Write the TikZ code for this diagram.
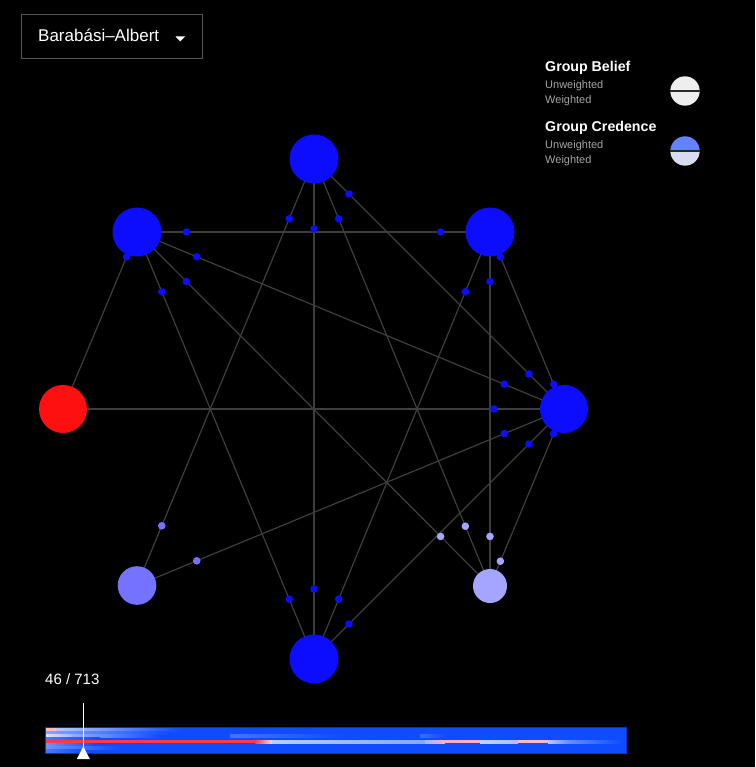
\documentclass[tikz,border=0pt]{standalone}
\usepackage{fontspec}
\setmainfont{Liberation Sans}
\definecolor{nblue}{RGB}{12,12,255}
\definecolor{nmid}{RGB}{115,115,255}
\definecolor{nlight}{RGB}{165,165,255}
\definecolor{nred}{RGB}{255,16,16}
\definecolor{edgegray}{RGB}{62,62,62}
\definecolor{boxgray}{RGB}{85,85,85}
\definecolor{subgray}{RGB}{165,165,165}
\definecolor{beliefc}{RGB}{238,238,238}
\definecolor{credtop}{RGB}{100,130,255}
\definecolor{credbot}{RGB}{216,220,240}
\definecolor{sepc}{RGB}{40,40,40}
\definecolor{barblue}{RGB}{16,76,255}
\definecolor{baredge}{RGB}{10,50,200}
\definecolor{hred}{RGB}{255,60,70}
\pgfdeclarelayer{back}
\pgfdeclarelayer{edges}
\pgfsetlayers{back,edges,main}
\tikzset{
  gnode/.style={circle, inner sep=0pt, draw=none},
  dotn/.style={circle, inner sep=0pt, minimum size=7.6pt, draw=none},
  edge/.style={draw=edgegray, line width=1.2pt},
  lbl/.style={anchor=base west, inner sep=0pt, text=white},
  sublbl/.style={anchor=base west, inner sep=0pt, text=subgray, font=\fontsize{11}{13}\selectfont},
  headlbl/.style={anchor=base west, inner sep=0pt, text=white, font=\bfseries\fontsize{14.2}{16}\selectfont},
}
\begin{document}
\begin{tikzpicture}[x=1pt,y=-1pt]
\begin{pgfonlayer}{back}
\fill[black] (0,0) rectangle (755,767);
\end{pgfonlayer}
\useasboundingbox (0,0) rectangle (755,767);

% graph nodes
\node[gnode, fill=nblue, minimum size=49pt] (n0) at (314,159) {};
\node[gnode, fill=nblue, minimum size=49pt] (n1) at (137,232) {};
\node[gnode, fill=nblue, minimum size=49pt] (n2) at (490,232) {};
\node[gnode, fill=nred,  minimum size=48pt] (n3) at (63,409) {};
\node[gnode, fill=nblue, minimum size=48pt] (n4) at (564,409) {};
\node[gnode, fill=nmid,  minimum size=38.6pt] (n5) at (137,585.5) {};
\node[gnode, fill=nblue, minimum size=49pt] (n6) at (314,659) {};
\node[gnode, fill=nlight,minimum size=34pt] (n7) at (490,586) {};

% edges
\begin{pgfonlayer}{edges}
\foreach \a/\b in {n0/n4,n0/n5,n0/n6,n0/n7,n1/n2,n1/n3,n1/n4,n1/n6,n1/n7,n2/n4,n2/n6,n2/n7,n3/n4,n4/n5,n4/n6,n4/n7}{
  \draw[edge] (\a.center) -- (\b.center);
}
\end{pgfonlayer}

% message dots
\foreach \a/\b/\ca/\cb in {n0/n4/nblue/nblue,n0/n5/nblue/nmid,n0/n6/nblue/nblue,n0/n7/nblue/nlight,n1/n2/nblue/nblue,n1/n4/nblue/nblue,n1/n6/nblue/nblue,n1/n7/nblue/nlight,n2/n4/nblue/nblue,n2/n6/nblue/nblue,n2/n7/nblue/nlight,n4/n5/nblue/nmid,n4/n6/nblue/nblue,n4/n7/nblue/nlight}{
  \path (\a.center) -- (\b.center)
    node[dotn, fill=\ca, pos=0.14] (d-\a-\b) {}
    node[dotn, fill=\cb, pos=0.86] (d-\b-\a) {};
}
\path (n1.center) -- (n3.center) node[dotn, fill=nblue, pos=0.14] (d-n1-n3) {};
\path (n4.center) -- (n3.center) node[dotn, fill=nblue, pos=0.14] (d-n4-n3) {};

% dropdown
\node[draw=boxgray, line width=1pt, minimum width=181pt, minimum height=44pt, anchor=north west, inner sep=0pt] (ddbox) at (20.5,14.5) {};
\node[lbl, font=\fontsize{17}{20}\selectfont] (ddtext) at (38,41.7) {Barabási–Albert};
\fill[white] (175.5,36.5) -- (185,36.5) -- (180.25,41.3) -- cycle;

% legend
\node[headlbl] (gb) at (545,71.3) {Group Belief};
\node[sublbl] (gbu) at (545,88.5) {Unweighted};
\node[sublbl] (gbw) at (545,103.5) {Weighted};
\node[headlbl] (gc) at (545,131.3) {Group Credence};
\node[sublbl] (gcu) at (545,148.5) {Unweighted};
\node[sublbl] (gcw) at (545,163.5) {Weighted};

\fill[beliefc] (685,91) circle (14.7pt);
\draw[sepc, line width=1.3pt] (670.3,91) -- (699.7,91);
\begin{scope}
\clip (669,135) rectangle (701,151);
\fill[credtop] (685,151) circle (14.7pt);
\end{scope}
\begin{scope}
\clip (669,151) rectangle (701,167);
\fill[credbot] (685,151) circle (14.7pt);
\end{scope}
\draw[sepc, line width=1.3pt] (670.3,151) -- (699.7,151);

% counter
\node[lbl, font=\fontsize{15}{18}\selectfont] (cnt) at (45,684.3) {46 / 713};

% timeline heatmap
\fill[barblue] (45,727) rectangle (626,753);
% row 0
\fill[white!65!hred] (45,728) rectangle (56,731);
\shade[left color=white!70!barblue, right color=barblue] (56,728) rectangle (180,731);
% row 1
\shade[left color=white!50!barblue, right color=barblue] (45,731) rectangle (170,734);
% row 2
\shade[left color=white!85!barblue, right color=white!60!barblue] (45,734) rectangle (72,737);
\shade[left color=white!55!barblue, right color=barblue] (72,734) rectangle (160,737);
\shade[left color=white!22!barblue, right color=barblue] (230,734) rectangle (345,737);
\shade[left color=white!18!barblue, right color=barblue] (420,734) rectangle (445,737);
% row 3
\shade[left color=white!25!barblue, right color=barblue] (45,737) rectangle (100,740);
% row 4 (red)
\fill[hred] (45,740) rectangle (255,743);
\shade[left color=hred, right color=white!80!hred] (255,740) rectangle (272,743);
\shade[left color=white!72!barblue, right color=white!50!barblue] (272,740) rectangle (425,743);
\shade[left color=white!60!barblue, right color=hred!40!white] (425,740) rectangle (445,743);
\fill[hred!40!white] (445,740) rectangle (480,743);
\shade[left color=white!75!barblue, right color=white!65!barblue] (480,740) rectangle (518,743);
\fill[hred!35!white] (518,740) rectangle (548,743);
\shade[left color=white!70!barblue, right color=white!35!barblue] (548,740) rectangle (570,743);
\shade[left color=white!35!barblue, right color=barblue] (570,740) rectangle (622,743);
% row 5
\shade[left color=white!40!barblue, right color=barblue] (45,743) rectangle (95,746);
% row 6
\shade[left color=white!40!barblue, right color=barblue] (45,746) rectangle (120,749);
% row 7
\shade[left color=white!25!barblue, right color=barblue] (45,749) rectangle (85,752);
\draw[baredge, line width=0.8pt] (45,727) rectangle (626,753);

% marker
\draw[white, line width=1.3pt] (83.3,703) -- (83.3,747);
\fill[white] (83.3,746.5) -- (89.8,759) -- (76.8,759) -- cycle;
\end{tikzpicture}
\end{document}
